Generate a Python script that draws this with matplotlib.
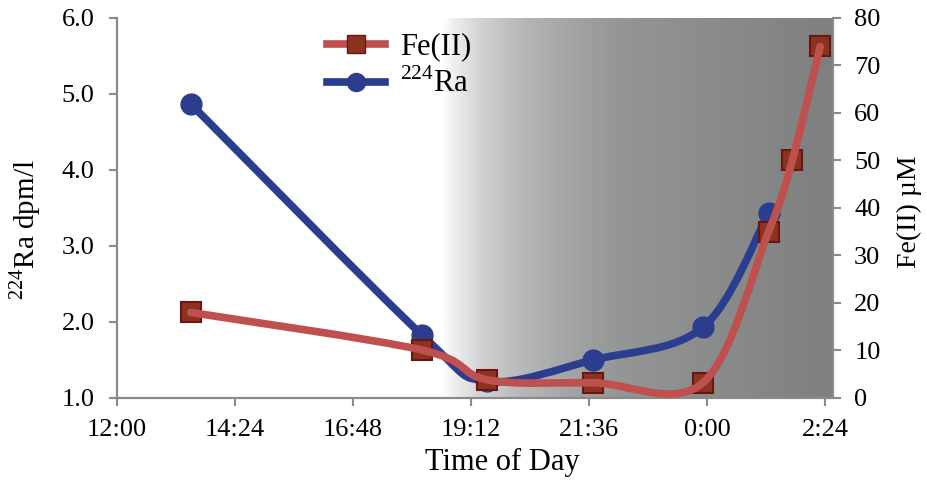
import numpy as np
import matplotlib
matplotlib.use("Agg")
import matplotlib.pyplot as plt
from matplotlib.path import Path
from matplotlib.patches import PathPatch
from matplotlib.lines import Line2D
from matplotlib.colors import LinearSegmentedColormap

plt.rcParams['font.family'] = ['Liberation Serif', 'DejaVu Serif']
plt.rcParams['mathtext.fontset'] = 'custom'
plt.rcParams['mathtext.rm'] = 'Liberation Serif'

# sample times (clock time, crossing midnight)
ra_times = ["13:30", "18:12", "19:32", "21:41", "23:55", "1:15"]
ra_vals = [4.87, 1.83, 1.22, 1.50, 1.93, 3.43]

fe_times = ["13:30", "18:12", "19:32", "21:41", "23:55", "1:15", "1:44", "2:18"]
fe_vals = [18.0, 10.1, 3.8, 3.2, 3.2, 35.0, 50.0, 74.0]

xtick_labels = ["12:00", "14:24", "16:48", "19:12", "21:36", "0:00", "2:24"]
dark_start = "18:35"


def to_day(s):
    h, m = s.split(":")
    d = (int(h) + int(m) / 60.0) / 24.0
    if d < 0.5:
        d += 1.0
    return d


def smooth_path(x, y):
    # Excel-style smoothed line: Catmull-Rom segments as cubic Beziers
    p = np.column_stack([x, y])
    n = len(p)
    verts = [p[0]]
    codes = [Path.MOVETO]
    for i in range(n - 1):
        p0 = p[i - 1] if i > 0 else p[i]
        p3 = p[i + 2] if i + 2 < n else p[i + 1]
        c1 = p[i] + (p[i + 1] - p0) / 6.0
        c2 = p[i + 1] - (p3 - p[i]) / 6.0
        verts += [c1, c2, p[i + 1]]
        codes += [Path.CURVE4] * 3
    return Path(verts, codes)


ra_x = [to_day(t) for t in ra_times]
fe_x = [to_day(t) for t in fe_times]
xticks = [to_day(t) for t in xtick_labels]

red = '#c0504d'
blue = '#2b3d8f'
sq_face = '#8a3420'
sq_edge = '#6a1510'
grey = '#8a8a8a'

fig = plt.figure(figsize=(9.28, 4.8), dpi=100)
ax = fig.add_axes([0.126, 0.171, 0.772, 0.7915])
ax2 = ax.twinx()

xmin, xmax = 0.5, 1.107
ax.set_xlim(xmin, xmax)
ax.set_ylim(1.0, 6.0)
ax2.set_ylim(0, 80)

# night shading
cmap = LinearSegmentedColormap.from_list('night', [
    (0.0, '#ffffff'), (0.03, '#eef0ef'), (0.10, '#d0d3d2'), (0.20, '#b6b9b8'),
    (0.33, '#a2a5a4'), (0.46, '#939695'), (1.0, '#7e807f')])
grad = np.linspace(0, 1, 400).reshape(1, -1)
ax.imshow(grad, cmap=cmap, aspect='auto', extent=[to_day(dark_start), xmax, 1.0, 6.0],
          zorder=0, interpolation='bilinear')

# Ra on left axis
ax.add_patch(PathPatch(smooth_path(ra_x, ra_vals), facecolor='none', edgecolor=blue,
                       lw=5.5, capstyle='round', zorder=2))
ax.plot(ra_x, ra_vals, ls='none', marker='o', ms=15, color=blue, zorder=3)

# Fe(II) on right axis
ax2.add_patch(PathPatch(smooth_path(fe_x, fe_vals), facecolor='none', edgecolor=red,
                        lw=5.5, capstyle='round', zorder=3))
ax2.plot(fe_x, fe_vals, ls='none', marker='s', ms=15, mfc=sq_face, mec=sq_edge, mew=1.5, zorder=2)

ax.set_xticks(xticks)
ax.set_xticklabels(xtick_labels)
ax.set_yticks(np.arange(1, 6.5, 1.0))
ax.set_yticklabels(["%.1f" % v for v in np.arange(1, 6.5, 1.0)])
ax2.set_yticks(np.arange(0, 81, 10))

for a in (ax, ax2):
    a.spines['top'].set_visible(False)
    for s in ('left', 'right', 'bottom'):
        a.spines[s].set_color(grey)
        a.spines[s].set_linewidth(1.5)
    a.tick_params(axis='both', colors=grey, labelcolor='black', labelsize=19,
                  length=6, width=1.5, direction='out')
ax.tick_params(axis='x', pad=9)
ax2.tick_params(axis='y', pad=9)
ax.tick_params(axis='y', pad=10)

# axis titles
fig.text(502 / 928, 1 - 462 / 480, "Time of Day", fontsize=22, ha='center', va='center')
fig.text(25 / 928, 1 - 230 / 480, r"$^{224}$Ra dpm/l", fontsize=21, rotation=90,
         ha='center', va='center')
fig.text(909 / 928, 1 - 212 / 480, u"Fe(II) \u00b5M", fontsize=20, rotation=90,
         ha='center', va='center')

handles = [
    Line2D([], [], color=red, lw=5.5, marker='s', ms=13, mfc=sq_face, mec=sq_edge),
    Line2D([], [], color=blue, lw=5.5, marker='o', ms=13),
]
ax2.legend(handles, ["Fe(II)", r"$^{224}$Ra"], loc='upper left', bbox_to_anchor=(0.255, 1.035),
           frameon=False, fontsize=22, handlelength=1.9, labelspacing=0.25, handletextpad=0.5)

fig.savefig("out.png", dpi=100)
